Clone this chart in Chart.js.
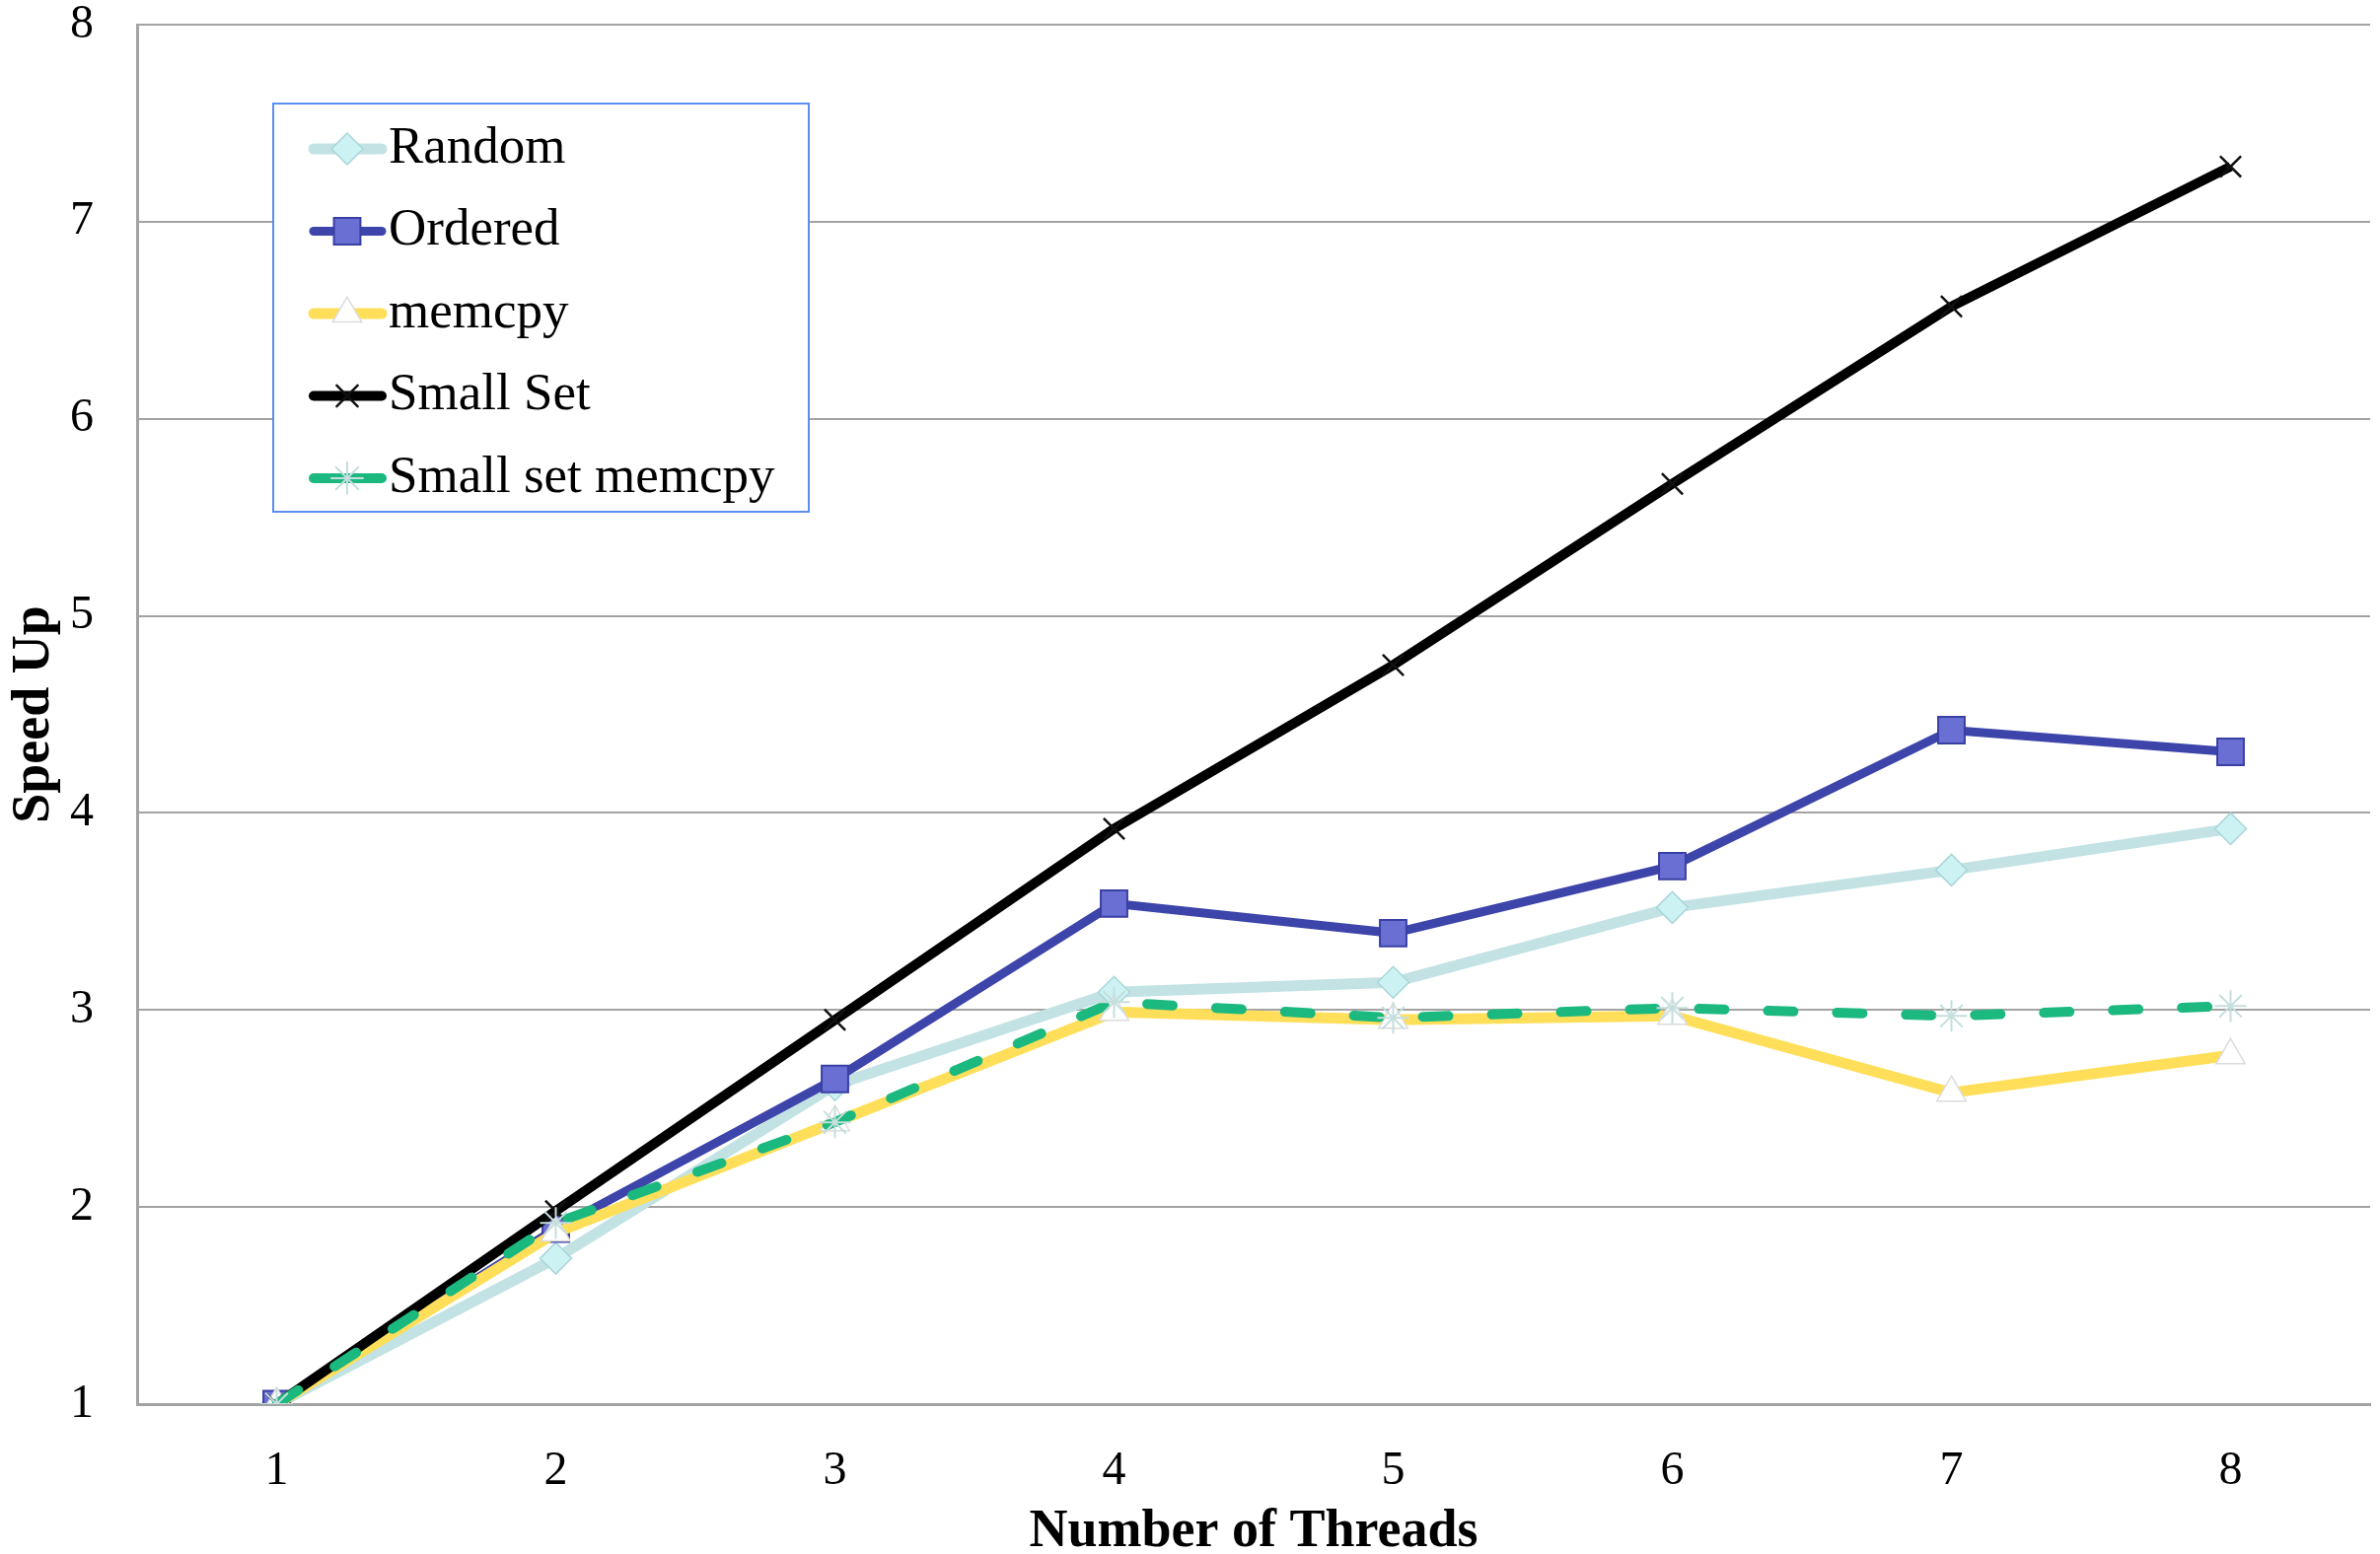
<!DOCTYPE html>
<html>
<head>
<meta charset="utf-8">
<script src="https://cdn.jsdelivr.net/npm/chart.js"></script>
<style>
    html, body { margin: 0; padding: 0; background: #fff; overflow: hidden; }
    #wrap { width: 2413px; height: 1576px; }
    canvas { display: block; }
</style>
</head>
<body>
<div id="wrap"><canvas id="chart" width="2413" height="1576"></canvas></div>
<script>
// Data
const threads = ['1', '2', '3', '4', '5', '6', '7', '8'];
const randomSpeedup = [1.0, 1.74, 2.62, 3.09, 3.14, 3.52, 3.71, 3.92];
const orderedSpeedup = [1.0, 1.89, 2.65, 3.54, 3.39, 3.73, 4.42, 4.31];
const memcpySpeedup = [1.0, 1.87, 2.43, 2.99, 2.95, 2.97, 2.58, 2.77];
const smallSetSpeedup = [1.0, 1.98, 2.95, 3.92, 4.75, 5.67, 6.57, 7.28];
const smallSetMemcpySpeedup = [1.0, 1.92, 2.43, 3.04, 2.96, 3.01, 2.97, 3.02];
const seriesNames = ['Random', 'Ordered', 'memcpy', 'Small Set', 'Small set memcpy'];

const SERIF = '"Liberation Serif", "Times New Roman", serif';

// Legend drawn inside the plot area, like the original
const insideLegend = {
    id: 'insideLegend',
    afterDatasetsDraw(chart) {
        const ctx = chart.ctx;
        const box = { x: 277, y: 105, w: 543, h: 414 };
        ctx.save();
        ctx.fillStyle = '#ffffff';
        ctx.fillRect(box.x, box.y, box.w, box.h);
        ctx.strokeStyle = '#5b8ef0';
        ctx.lineWidth = 2;
        ctx.strokeRect(box.x, box.y, box.w, box.h);

        chart.data.datasets.forEach((ds, i) => {
            const rowY = 151 + i * 83.5;
            ctx.setLineDash([]);
            ctx.lineCap = 'round';
            ctx.strokeStyle = ds.borderColor;
            ctx.lineWidth = ds.borderWidth;
            ctx.beginPath();
            ctx.moveTo(318, rowY);
            ctx.lineTo(387, rowY);
            ctx.stroke();

            if (Chart.helpers && Chart.helpers.drawPoint) {
                ctx.fillStyle = ds.pointBackgroundColor;
                ctx.strokeStyle = ds.pointBorderColor;
                ctx.lineWidth = ds.pointBorderWidth;
                Chart.helpers.drawPoint(ctx, {
                    pointStyle: ds.pointStyle,
                    radius: ds.pointRadius,
                    rotation: 0,
                    borderWidth: ds.pointBorderWidth
                }, 352, rowY);
            }

            ctx.fillStyle = '#000';
            ctx.font = '53px ' + SERIF;
            ctx.textBaseline = 'middle';
            ctx.textAlign = 'left';
            ctx.fillText(ds.label, 394, rowY);
        });
        ctx.restore();
    }
};

const ctx = document.getElementById('chart');

new Chart(ctx, {
    type: 'line',
    data: {
        labels: threads,
        datasets: [
            {
                label: seriesNames[0],
                data: randomSpeedup,
                borderColor: '#c2e2e4',
                borderWidth: 11,
                pointStyle: 'rectRot',
                pointRadius: 16,
                pointBackgroundColor: '#cdf2f3',
                pointBorderColor: '#a9d6d9',
                pointBorderWidth: 1.5,
                order: 5
            },
            {
                label: seriesNames[1],
                data: orderedSpeedup,
                borderColor: '#3d44aa',
                borderWidth: 9,
                pointStyle: 'rect',
                pointRadius: 19,
                pointBackgroundColor: '#6a6fd4',
                pointBorderColor: '#3a3fa4',
                pointBorderWidth: 2,
                order: 4
            },
            {
                label: seriesNames[2],
                data: memcpySpeedup,
                borderColor: '#ffdf5a',
                borderWidth: 11,
                pointStyle: 'triangle',
                pointRadius: 17,
                pointBackgroundColor: '#ffffff',
                pointBorderColor: '#dcdcdc',
                pointBorderWidth: 1.5,
                order: 3
            },
            {
                label: seriesNames[3],
                data: smallSetSpeedup,
                borderColor: '#000000',
                borderWidth: 10,
                pointStyle: 'crossRot',
                pointRadius: 15,
                pointBackgroundColor: '#000000',
                pointBorderColor: '#111111',
                pointBorderWidth: 2.5,
                order: 2
            },
            {
                label: seriesNames[4],
                data: smallSetMemcpySpeedup,
                borderColor: '#1bb87f',
                borderWidth: 10,
                borderDash: [26, 44],
                borderCapStyle: 'round',
                pointStyle: 'star',
                pointRadius: 16,
                pointBackgroundColor: '#cfe4e4',
                pointBorderColor: '#c5dede',
                pointBorderWidth: 2,
                order: 1
            }
        ]
    },
    options: {
        responsive: false,
        animation: false,
        layout: {
            autoPadding: false,
            padding: { top: 25, right: 10, left: 0, bottom: 0 }
        },
        elements: { line: { tension: 0 } },
        scales: {
            x: {
                offset: true,
                afterFit: (scale) => {
                    scale.height = 152;
                    scale.paddingLeft = 0;
                    scale.paddingRight = 0;
                },
                grid: { display: false, drawTicks: false },
                border: { display: true, color: '#a3a3a3', width: 3 },
                ticks: {
                    color: '#000',
                    padding: 40,
                    maxRotation: 0,
                    font: { family: SERIF, size: 48 }
                },
                title: {
                    display: true,
                    text: 'Number of Threads',
                    color: '#000',
                    padding: 0,
                    font: { family: SERIF, size: 54, weight: 'bold', lineHeight: 0.8 }
                }
            },
            y: {
                min: 1,
                max: 8,
                afterFit: (scale) => {
                    scale.width = 139;
                    scale.paddingTop = 0;
                    scale.paddingBottom = 0;
                },
                grid: { color: '#a3a3a3', lineWidth: 2, drawTicks: false },
                border: { display: true, color: '#a3a3a3', width: 3 },
                ticks: {
                    stepSize: 1,
                    color: '#000',
                    padding: 44,
                    font: { family: SERIF, size: 48 }
                },
                title: {
                    display: true,
                    text: 'Speed Up',
                    color: '#000',
                    padding: { top: 8, bottom: 0 },
                    font: { family: SERIF, size: 54, weight: 'bold', lineHeight: 1.0 }
                }
            }
        },
        plugins: {
            legend: { display: false },
            tooltip: { enabled: false }
        }
    },
    plugins: [insideLegend]
});
</script>
</body>
</html>
